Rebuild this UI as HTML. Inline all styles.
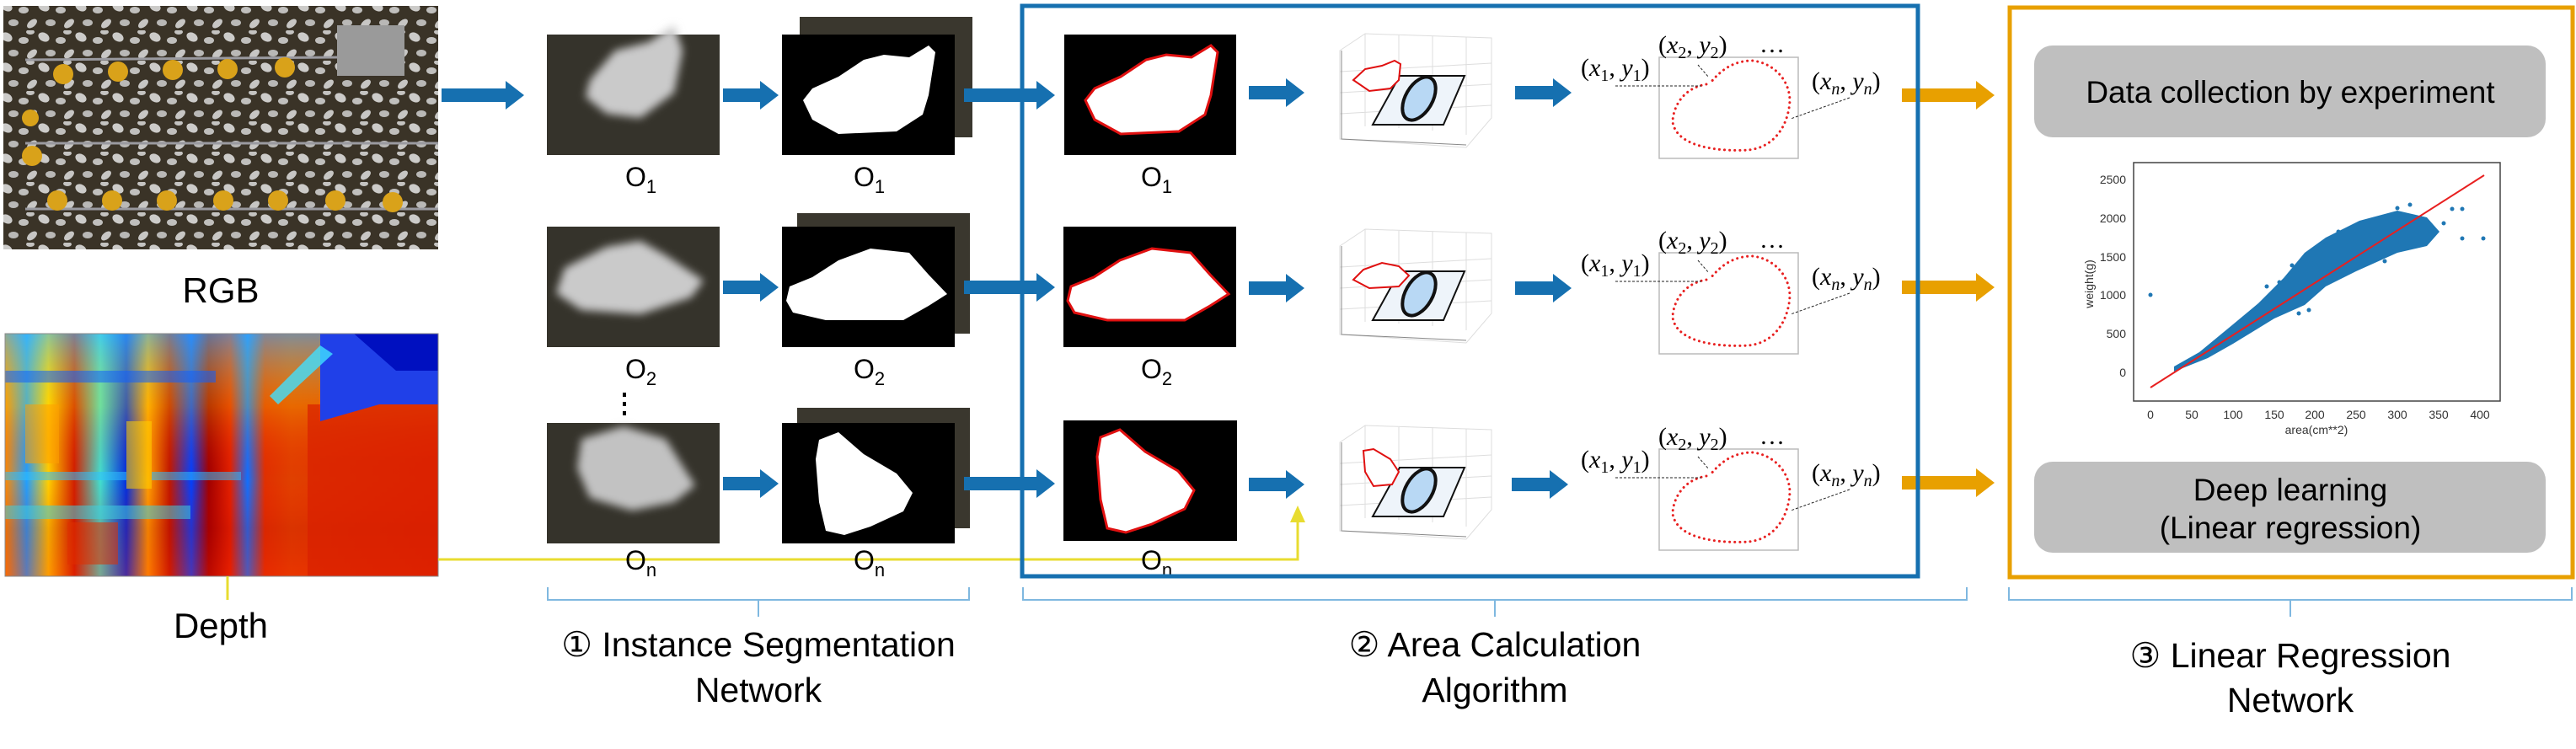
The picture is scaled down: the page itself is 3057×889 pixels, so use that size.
<!DOCTYPE html>
<html><head><meta charset="utf-8"><style>
html,body{margin:0;padding:0;background:#fff;}
svg{display:block}
</style></head><body>
<svg width="3057" height="889" viewBox="0 0 3057 889" xmlns="http://www.w3.org/2000/svg" font-family="'Liberation Sans', 'DejaVu Sans', sans-serif">
<defs>
  <pattern id="ck" width="44" height="36" patternUnits="userSpaceOnUse">
    <ellipse cx="8" cy="8" rx="7" ry="5" fill="#e6e6e6" transform="rotate(30 8 8)"/>
    <ellipse cx="28" cy="12" rx="6" ry="4" fill="#d8d8d8"/>
    <ellipse cx="38" cy="28" rx="7" ry="4" fill="#e0e0e0" transform="rotate(-40 38 28)"/>
    <ellipse cx="16" cy="27" rx="6" ry="4" fill="#cfcfcf"/>
    <ellipse cx="36" cy="2" rx="5" ry="3" fill="#dcdcdc"/>
  </pattern>
  <filter id="bl" x="-50%" y="-50%" width="200%" height="200%"><feGaussianBlur stdDeviation="5"/></filter>
  <filter id="bl2" x="-50%" y="-50%" width="200%" height="200%"><feGaussianBlur stdDeviation="4"/></filter>
  <linearGradient id="dg" x1="0" x2="1" y1="0" y2="0">
    <stop offset="0" stop-color="#ff8a00"/><stop offset="0.05" stop-color="#20a0ff"/>
    <stop offset="0.1" stop-color="#ffd000"/><stop offset="0.16" stop-color="#d02000"/>
    <stop offset="0.22" stop-color="#40e0d0"/><stop offset="0.28" stop-color="#0030e0"/>
    <stop offset="0.33" stop-color="#ffa000"/><stop offset="0.38" stop-color="#c01800"/>
    <stop offset="0.43" stop-color="#0040ff"/><stop offset="0.47" stop-color="#a00000"/>
    <stop offset="0.52" stop-color="#e02000"/><stop offset="0.56" stop-color="#1070ff"/>
    <stop offset="0.6" stop-color="#e03000"/><stop offset="0.66" stop-color="#e04000"/>
    <stop offset="1" stop-color="#e02800"/>
  </linearGradient>
  <linearGradient id="dv" x1="0" x2="0" y1="0" y2="1">
    <stop offset="0" stop-color="#40c0ff" stop-opacity="0.6"/>
    <stop offset="0.3" stop-color="#ffe000" stop-opacity="0.25"/>
    <stop offset="0.6" stop-color="#ff0000" stop-opacity="0"/>
    <stop offset="0.8" stop-color="#c00000" stop-opacity="0.2"/>
    <stop offset="1" stop-color="#ff2000" stop-opacity="0.3"/>
  </linearGradient>
  <g id="cross"><path d="M1629,148 L1713,148 L1738,90 L1661,90 Z" fill="#eef4fa" stroke="#111" stroke-width="2"/></g>
</defs>
<rect width="3057" height="889" fill="#fff"/>

<!-- RGB image -->
<rect x="4" y="7" width="516" height="289" fill="#3a3327"/>
<rect x="4" y="7" width="516" height="289" fill="url(#ck)" opacity="0.85"/>
<rect x="400" y="30" width="80" height="60" fill="#9a9a9a"/>
<g stroke="#9a9aa0" stroke-width="3">
  <line x1="30" y1="71" x2="400" y2="68"/><line x1="30" y1="170" x2="520" y2="170"/><line x1="30" y1="248" x2="520" y2="248"/>
</g>
<g fill="#d9a21a">
  <circle cx="75" cy="88" r="12"/><circle cx="140" cy="85" r="12"/><circle cx="205" cy="83" r="12"/><circle cx="270" cy="82" r="12"/><circle cx="338" cy="80" r="12"/>
  <circle cx="38" cy="185" r="12"/><circle cx="36" cy="140" r="10"/>
  <circle cx="68" cy="238" r="12"/><circle cx="133" cy="238" r="12"/><circle cx="198" cy="238" r="12"/><circle cx="265" cy="238" r="12"/><circle cx="330" cy="238" r="12"/><circle cx="398" cy="238" r="12"/><circle cx="466" cy="240" r="12"/>
</g>
<text x="262" y="359" font-size="42" text-anchor="middle" fill="#000">RGB</text>

<!-- Depth image -->
<rect x="6" y="396" width="514" height="288" fill="url(#dg)"/>
<rect x="6" y="396" width="514" height="288" fill="url(#dv)"/>
<g opacity="0.55">
  <rect x="6" y="440" width="250" height="14" fill="#1060ff"/>
  <rect x="6" y="560" width="280" height="10" fill="#30c0ff"/>
  <rect x="6" y="600" width="220" height="16" fill="#40d0e0"/>
  <rect x="30" y="480" width="40" height="70" fill="#ffa000"/>
  <rect x="80" y="620" width="60" height="50" fill="#e03000"/>
  <rect x="150" y="500" width="30" height="80" fill="#ffd000"/>
</g>
<rect x="365" y="480" width="155" height="204" fill="#d82000" opacity="0.7"/>
<path d="M380,396 L520,396 L520,480 L450,480 L380,500 Z" fill="#2040e8"/>
<path d="M420,396 L520,396 L520,440 L470,440 Z" fill="#0010c0"/>
<path d="M320,470 L380,410 L395,420 L330,480 Z" fill="#40e0ff" opacity="0.8"/>
<rect x="6" y="396" width="514" height="288" fill="none" stroke="#888" stroke-width="1"/>
<line x1="270" y1="684" x2="270" y2="712" stroke="#e8dc30" stroke-width="3"/>
<text x="262" y="757" font-size="42" text-anchor="middle" fill="#000">Depth</text>

<!-- yellow connector -->
<path d="M520,664 L1540,664 L1540,618" fill="none" stroke="#e8dc30" stroke-width="3"/>
<path d="M1531,620 L1549,620 L1540,600 Z" fill="#e8dc30"/>

<!-- blue arrow from RGB -->
<path d="M524,105 L600,105 L600,96 L622,113 L600,130 L600,121 L524,121 Z" fill="#1670b0"/>

<!-- ROWS -->
<g id="row1">
  <rect x="649" y="41" width="205" height="143" fill="#35332b"/>
  <path d="M700,95 L730,60 L770,50 L800,30 L810,60 L800,110 L760,140 L720,135 L695,115 Z" fill="#cacaca" filter="url(#bl)"/>
  <text x="742" y="221" font-size="32">O<tspan font-size="22" dy="8">1</tspan></text>
  <path d="M858,105 L902,105 L902,96 L924,113 L902,130 L902,121 L858,121 Z" fill="#1670b0"/>
  <rect x="949" y="20" width="205" height="143" fill="#3a372e"/>
  <rect x="928" y="41" width="205" height="143" fill="#000"/>
  <path transform="translate(928,41)" d="M25,78 L36,64 L67,50 L97,30 L121,24 L151,27 L174,13 L182,21 L174,72 L167,95 L136,115 L67,118 L36,101 Z" fill="#fff"/>
  <text x="1013" y="221" font-size="32">O<tspan font-size="22" dy="8">1</tspan></text>
  <path d="M1144,105 L1230,105 L1230,96 L1252,113 L1230,130 L1230,121 L1144,121 Z" fill="#1670b0"/>
  <rect x="1263" y="41" width="204" height="143" fill="#000"/>
  <path transform="translate(1263,41)" d="M25,78 L36,64 L67,50 L97,30 L121,24 L151,27 L174,13 L182,21 L174,72 L167,95 L136,115 L67,118 L36,101 Z" fill="#fff" stroke="#e01010" stroke-width="3"/>
  <text x="1354" y="221" font-size="32">O<tspan font-size="22" dy="8">1</tspan></text>
  <path d="M1482,102 L1526,102 L1526,93 L1548,110 L1526,127 L1526,118 L1482,118 Z" fill="#1670b0"/>
  <g stroke="#ddd" stroke-width="1" fill="none">
    <path d="M1590,60 L1620,40 L1770,45 L1770,140 L1740,175 L1590,165 Z"/>
    <line x1="1620" y1="40" x2="1620" y2="150"/><line x1="1660" y1="42" x2="1660" y2="152"/><line x1="1700" y1="43" x2="1700" y2="155"/><line x1="1740" y1="44" x2="1740" y2="160"/>
    <line x1="1590" y1="85" x2="1770" y2="75"/><line x1="1590" y1="110" x2="1770" y2="100"/><line x1="1590" y1="135" x2="1770" y2="125"/>
  </g>
  <path d="M1592,60 L1592,165 L1740,172" fill="none" stroke="#888" stroke-width="1"/>
  <use href="#cross"/>
  <ellipse cx="1684" cy="117" rx="16" ry="28" transform="rotate(30 1684 117)" fill="#b8d8f4" stroke="#111" stroke-width="4"/>
  <path d="M1606,95 L1620,82 L1640,78 L1655,72 L1662,76 L1660,95 L1650,105 L1625,108 Z" fill="#fff" stroke="#e01010" stroke-width="2"/>
  <path d="M1798,102 L1843,102 L1843,93 L1865,110 L1843,127 L1843,118 L1798,118 Z" fill="#1670b0"/>
  <rect x="1969" y="68" width="165" height="120" fill="#fff" stroke="#bbb" stroke-width="1.5"/>
  <path d="M2025,100 C1995,105 1985,130 1985,145 C1990,175 2040,180 2075,178 C2105,175 2122,150 2124,120 C2124,95 2105,75 2080,72 C2060,72 2045,80 2030,98" fill="none" stroke="#e82020" stroke-width="3" stroke-dasharray="0.1 6" stroke-linecap="round"/>
  <g stroke="#222" stroke-width="1" stroke-dasharray="3 2">
    <line x1="1917" y1="102" x2="2019" y2="102"/>
    <line x1="2015" y1="77" x2="2028" y2="92"/>
    <line x1="2195" y1="116" x2="2125" y2="141"/>
  </g>
  <g font-family="'Liberation Serif', serif" font-size="30" fill="#000">
    <text x="1876" y="90">(<tspan font-style="italic">x</tspan><tspan font-size="20" dy="6">1</tspan><tspan dy="-6">, </tspan><tspan font-style="italic">y</tspan><tspan font-size="20" dy="6">1</tspan><tspan dy="-6">)</tspan></text>
    <text x="1968" y="63">(<tspan font-style="italic">x</tspan><tspan font-size="20" dy="6">2</tspan><tspan dy="-6">, </tspan><tspan font-style="italic">y</tspan><tspan font-size="20" dy="6">2</tspan><tspan dy="-6">)</tspan></text>
    <text x="2088" y="62">…</text>
    <text x="2150" y="106">(<tspan font-style="italic">x</tspan><tspan font-size="20" font-style="italic" dy="6">n</tspan><tspan dy="-6">, </tspan><tspan font-style="italic">y</tspan><tspan font-size="20" font-style="italic" dy="6">n</tspan><tspan dy="-6">)</tspan></text>
  </g>
  <path d="M2257,105 L2345,105 L2345,96 L2367,113 L2345,130 L2345,121 L2257,121 Z" fill="#e8a000"/>
</g>

<g transform="translate(0,228)">
  <rect x="649" y="41" width="205" height="143" fill="#35332b"/>
  <path d="M660,120 L670,90 L720,65 L760,58 L790,75 L835,105 L820,125 L760,145 L690,140 Z" fill="#cacaca" filter="url(#bl)"/>
  <text x="742" y="221" font-size="32">O<tspan font-size="22" dy="8">2</tspan></text>
  <path d="M858,105 L902,105 L902,96 L924,113 L902,130 L902,121 L858,121 Z" fill="#1670b0"/>
  <rect x="946" y="25" width="205" height="143" fill="#3a372e"/>
  <rect x="928" y="41" width="205" height="143" fill="#000"/>
  <path transform="translate(928,41)" d="M5,88 L9,71 L36,60 L67,40 L105,26 L151,31 L174,57 L196,80 L174,94 L144,111 L52,111 L13,102 Z" fill="#fff"/>
  <text x="1013" y="221" font-size="32">O<tspan font-size="22" dy="8">2</tspan></text>
  <path d="M1144,105 L1230,105 L1230,96 L1252,113 L1230,130 L1230,121 L1144,121 Z" fill="#1670b0"/>
  <rect x="1262" y="41" width="205" height="143" fill="#000"/>
  <path transform="translate(1262,41)" d="M5,88 L9,71 L36,60 L67,40 L105,26 L151,31 L174,57 L196,80 L174,94 L144,111 L52,111 L13,102 Z" fill="#fff" stroke="#e01010" stroke-width="3"/>
  <text x="1354" y="221" font-size="32">O<tspan font-size="22" dy="8">2</tspan></text>
</g>
<g transform="translate(0,232)">
  <path d="M1482,102 L1526,102 L1526,93 L1548,110 L1526,127 L1526,118 L1482,118 Z" fill="#1670b0"/>
  <g stroke="#ddd" stroke-width="1" fill="none">
    <path d="M1590,60 L1620,40 L1770,45 L1770,140 L1740,175 L1590,165 Z"/>
    <line x1="1620" y1="40" x2="1620" y2="150"/><line x1="1660" y1="42" x2="1660" y2="152"/><line x1="1700" y1="43" x2="1700" y2="155"/><line x1="1740" y1="44" x2="1740" y2="160"/>
    <line x1="1590" y1="85" x2="1770" y2="75"/><line x1="1590" y1="110" x2="1770" y2="100"/><line x1="1590" y1="135" x2="1770" y2="125"/>
  </g>
  <path d="M1592,60 L1592,165 L1740,172" fill="none" stroke="#888" stroke-width="1"/>
  <use href="#cross"/>
  <ellipse cx="1684" cy="117" rx="16" ry="28" transform="rotate(30 1684 117)" fill="#b8d8f4" stroke="#111" stroke-width="4"/>
  <path d="M1606,100 L1618,88 L1640,80 L1660,84 L1672,95 L1660,108 L1625,110 Z" fill="#fff" stroke="#e01010" stroke-width="2"/>
  <path d="M1798,102 L1843,102 L1843,93 L1865,110 L1843,127 L1843,118 L1798,118 Z" fill="#1670b0"/>
  <rect x="1969" y="68" width="165" height="120" fill="#fff" stroke="#bbb" stroke-width="1.5"/>
  <path d="M2025,100 C1995,105 1985,130 1985,145 C1990,175 2040,180 2075,178 C2105,175 2122,150 2124,120 C2124,95 2105,75 2080,72 C2060,72 2045,80 2030,98" fill="none" stroke="#e82020" stroke-width="3" stroke-dasharray="0.1 6" stroke-linecap="round"/>
  <g stroke="#222" stroke-width="1" stroke-dasharray="3 2">
    <line x1="1917" y1="102" x2="2019" y2="102"/>
    <line x1="2015" y1="77" x2="2028" y2="92"/>
    <line x1="2195" y1="116" x2="2125" y2="141"/>
  </g>
  <g font-family="'Liberation Serif', serif" font-size="30" fill="#000">
    <text x="1876" y="90">(<tspan font-style="italic">x</tspan><tspan font-size="20" dy="6">1</tspan><tspan dy="-6">, </tspan><tspan font-style="italic">y</tspan><tspan font-size="20" dy="6">1</tspan><tspan dy="-6">)</tspan></text>
    <text x="1968" y="63">(<tspan font-style="italic">x</tspan><tspan font-size="20" dy="6">2</tspan><tspan dy="-6">, </tspan><tspan font-style="italic">y</tspan><tspan font-size="20" dy="6">2</tspan><tspan dy="-6">)</tspan></text>
    <text x="2088" y="62">…</text>
    <text x="2150" y="106">(<tspan font-style="italic">x</tspan><tspan font-size="20" font-style="italic" dy="6">n</tspan><tspan dy="-6">, </tspan><tspan font-style="italic">y</tspan><tspan font-size="20" font-style="italic" dy="6">n</tspan><tspan dy="-6">)</tspan></text>
  </g>
  <path d="M2257,101 L2345,101 L2345,92 L2367,109 L2345,126 L2345,117 L2257,117 Z" fill="#e8a000"/>
</g>

<g fill="#000"><rect x="739" y="466" width="4" height="5"/><rect x="739" y="477" width="4" height="5"/><rect x="739" y="488" width="4" height="5"/></g>

<g transform="translate(0,461)">
  <rect x="649" y="41" width="205" height="143" fill="#35332b"/>
  <path d="M690,60 L740,45 L790,60 L815,100 L825,115 L800,135 L750,145 L700,130 L685,95 Z" fill="#c2c2c2" filter="url(#bl)"/>
  <text x="742" y="215" font-size="32">O<tspan font-size="22" dy="8">n</tspan></text>
  <path d="M858,105 L902,105 L902,96 L924,113 L902,130 L902,121 L858,121 Z" fill="#1670b0"/>
  <rect x="946" y="23" width="205" height="143" fill="#3a372e"/>
  <rect x="928" y="41" width="205" height="143" fill="#000"/>
  <path transform="translate(928,41)" d="M44,20 L67,11 L97,37 L136,60 L155,83 L144,105 L105,123 L74,133 L52,128 L44,94 L40,43 Z" fill="#fff"/>
  <text x="1013" y="215" font-size="32">O<tspan font-size="22" dy="8">n</tspan></text>
  <path d="M1144,105 L1230,105 L1230,96 L1252,113 L1230,130 L1230,121 L1144,121 Z" fill="#1670b0"/>
</g>
<g transform="translate(0,458)">
  <rect x="1262" y="41" width="206" height="143" fill="#000"/>
  <path transform="translate(1262,41)" d="M44,20 L67,11 L97,37 L136,60 L155,83 L144,105 L105,123 L74,133 L52,128 L44,94 L40,43 Z" fill="#fff" stroke="#e01010" stroke-width="3"/>
  <text x="1354" y="218" font-size="32">O<tspan font-size="22" dy="8">n</tspan></text>
</g>
<g transform="translate(0,465)">
  <path d="M1482,102 L1526,102 L1526,93 L1548,110 L1526,127 L1526,118 L1482,118 Z" fill="#1670b0"/>
  <g stroke="#ddd" stroke-width="1" fill="none">
    <path d="M1590,60 L1620,40 L1770,45 L1770,140 L1740,175 L1590,165 Z"/>
    <line x1="1620" y1="40" x2="1620" y2="150"/><line x1="1660" y1="42" x2="1660" y2="152"/><line x1="1700" y1="43" x2="1700" y2="155"/><line x1="1740" y1="44" x2="1740" y2="160"/>
    <line x1="1590" y1="85" x2="1770" y2="75"/><line x1="1590" y1="110" x2="1770" y2="100"/><line x1="1590" y1="135" x2="1770" y2="125"/>
  </g>
  <path d="M1592,60 L1592,165 L1740,172" fill="none" stroke="#888" stroke-width="1"/>
  <use href="#cross"/>
  <ellipse cx="1684" cy="117" rx="16" ry="28" transform="rotate(30 1684 117)" fill="#b8d8f4" stroke="#111" stroke-width="4"/>
  <path d="M1618,70 L1630,68 L1650,80 L1660,95 L1652,110 L1630,112 L1620,95 Z" fill="#fff" stroke="#e01010" stroke-width="2"/>
  <path d="M1794,102 L1839,102 L1839,93 L1861,110 L1839,127 L1839,118 L1794,118 Z" fill="#1670b0"/>
  <rect x="1969" y="68" width="165" height="120" fill="#fff" stroke="#bbb" stroke-width="1.5"/>
  <path d="M2025,100 C1995,105 1985,130 1985,145 C1990,175 2040,180 2075,178 C2105,175 2122,150 2124,120 C2124,95 2105,75 2080,72 C2060,72 2045,80 2030,98" fill="none" stroke="#e82020" stroke-width="3" stroke-dasharray="0.1 6" stroke-linecap="round"/>
  <g stroke="#222" stroke-width="1" stroke-dasharray="3 2">
    <line x1="1917" y1="102" x2="2019" y2="102"/>
    <line x1="2015" y1="77" x2="2028" y2="92"/>
    <line x1="2195" y1="116" x2="2125" y2="141"/>
  </g>
  <g font-family="'Liberation Serif', serif" font-size="30" fill="#000">
    <text x="1876" y="90">(<tspan font-style="italic">x</tspan><tspan font-size="20" dy="6">1</tspan><tspan dy="-6">, </tspan><tspan font-style="italic">y</tspan><tspan font-size="20" dy="6">1</tspan><tspan dy="-6">)</tspan></text>
    <text x="1968" y="63">(<tspan font-style="italic">x</tspan><tspan font-size="20" dy="6">2</tspan><tspan dy="-6">, </tspan><tspan font-style="italic">y</tspan><tspan font-size="20" dy="6">2</tspan><tspan dy="-6">)</tspan></text>
    <text x="2088" y="62">…</text>
    <text x="2150" y="106">(<tspan font-style="italic">x</tspan><tspan font-size="20" font-style="italic" dy="6">n</tspan><tspan dy="-6">, </tspan><tspan font-style="italic">y</tspan><tspan font-size="20" font-style="italic" dy="6">n</tspan><tspan dy="-6">)</tspan></text>
  </g>
  <path d="M2257,100 L2345,100 L2345,91 L2367,108 L2345,125 L2345,116 L2257,116 Z" fill="#e8a000"/>
</g>

<rect x="1213" y="7" width="1063" height="677" fill="none" stroke="#1670b0" stroke-width="5"/>
<rect x="2385" y="9" width="668" height="676" fill="none" stroke="#e8a000" stroke-width="5"/>

<rect x="2414" y="54" width="607" height="109" rx="22" fill="#bfbfbf"/>
<text x="2718" y="122" font-size="37" text-anchor="middle">Data collection by experiment</text>
<rect x="2414" y="548" width="607" height="108" rx="22" fill="#bfbfbf"/>
<text x="2718" y="594" font-size="37" text-anchor="middle">Deep learning</text>
<text x="2718" y="639" font-size="37" text-anchor="middle">(Linear regression)</text>

<rect x="2532" y="193" width="435" height="283" fill="#fff" stroke="#444" stroke-width="1.5"/>
<g font-size="14" fill="#333" text-anchor="end">
  <text x="2523" y="447">0</text><text x="2523" y="401">500</text><text x="2523" y="355">1000</text><text x="2523" y="310">1500</text><text x="2523" y="264">2000</text><text x="2523" y="218">2500</text>
</g>
<g font-size="14" fill="#333" text-anchor="middle">
  <text x="2552" y="497">0</text><text x="2601" y="497">50</text><text x="2650" y="497">100</text><text x="2699" y="497">150</text><text x="2747" y="497">200</text><text x="2796" y="497">250</text><text x="2845" y="497">300</text><text x="2894" y="497">350</text><text x="2943" y="497">400</text>
  <text x="2749" y="515">area(cm**2)</text>
</g>
<text x="2484" y="337" font-size="14" fill="#333" text-anchor="middle" transform="rotate(-90 2484 337)">weight(g)</text>
<path d="M2580,441 L2620,425 L2650,408 L2699,378 L2735,362 L2760,340 L2796,322 L2845,300 L2880,292 L2895,275 L2880,258 L2845,250 L2800,262 L2760,282 L2735,300 L2710,330 L2680,360 L2650,385 L2610,418 L2580,435 Z" fill="#1f77b4"/>
<g fill="#1f77b4">
  <circle cx="2552" cy="350" r="2.5"/><circle cx="2922" cy="283" r="2.5"/><circle cx="2947" cy="283" r="2.5"/>
  <circle cx="2910" cy="248" r="2.5"/><circle cx="2922" cy="248" r="2.5"/><circle cx="2860" cy="243" r="2.5"/><circle cx="2845" cy="247" r="2.5"/>
  <circle cx="2775" cy="275" r="2.5"/><circle cx="2760" cy="290" r="2.5"/><circle cx="2728" cy="372" r="2.5"/><circle cx="2740" cy="368" r="2.5"/>
  <circle cx="2705" cy="335" r="2.5"/><circle cx="2690" cy="340" r="2.5"/><circle cx="2900" cy="265" r="2.5"/>
  <circle cx="2812" cy="300" r="2.5"/><circle cx="2830" cy="310" r="2.5"/><circle cx="2770" cy="330" r="2.5"/><circle cx="2720" cy="315" r="2.5"/>
</g>
<line x1="2552" y1="460" x2="2948" y2="208" stroke="#e82020" stroke-width="2"/>

<g fill="none" stroke="#7fb8e0" stroke-width="2">
  <path d="M650,697 L650,712 L900,712 L900,732 M900,712 L1150,712 L1150,697"/>
  <path d="M1214,697 L1214,712 L1774,712 L1774,732 M1774,712 L2334,712 L2334,697"/>
  <path d="M2384,697 L2384,712 L2718,712 L2718,732 M2718,712 L3052,712 L3052,697"/>
</g>

<g font-size="41" text-anchor="middle" fill="#000">
  <text x="900" y="779">① Instance Segmentation</text>
  <text x="900" y="833">Network</text>
  <text x="1774" y="779">② Area Calculation</text>
  <text x="1774" y="833">Algorithm</text>
  <text x="2718" y="792">③ Linear Regression</text>
  <text x="2718" y="845">Network</text>
</g>
</svg>
</body></html>
